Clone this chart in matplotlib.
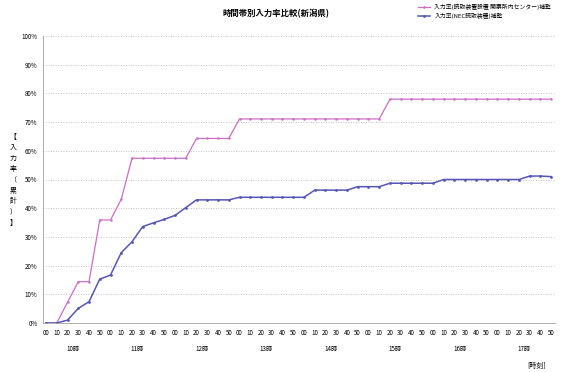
import numpy as np
import matplotlib
matplotlib.use('Agg')
import matplotlib.pyplot as plt

plt.rcParams['font.family'] = ['Noto Sans CJK JP', 'DejaVu Sans']

# data (percent, cumulative)
hours = ['10時', '11時', '12時', '13時', '14時', '15時', '16時', '17時']
minutes = ['00', '10', '20', '30', '40', '50']
pink_label = '入力率(読取装置設置 開票所内センター)補整'
blue_label = '入力率(NEC読取装置)補整'
pink_vals = [0, 0, 7.2, 14.4, 14.4, 35.9, 35.9, 43.1, 57.4, 57.4, 57.4, 57.4,
             57.4, 57.4, 64.3, 64.3, 64.3, 64.3, 71.1, 71.1, 71.1, 71.1, 71.1, 71.1,
             71.1, 71.1, 71.1, 71.1, 71.1, 71.1, 71.1, 71.1, 78.0, 78.0, 78.0, 78.0,
             78.0, 78.0, 78.0, 78.0, 78.0, 78.0, 78.0, 78.0, 78.0, 78.0, 78.0, 78.0]
blue_vals = [0, 0, 1.0, 5.1, 7.4, 15.3, 16.7, 24.5, 28.3, 33.6, 34.9, 36.1,
             37.5, 40.2, 42.9, 42.9, 42.9, 42.9, 43.8, 43.8, 43.8, 43.8, 43.8, 43.8,
             43.8, 46.3, 46.3, 46.3, 46.3, 47.5, 47.5, 47.5, 48.7, 48.7, 48.7, 48.7,
             48.7, 50.0, 50.0, 50.0, 50.0, 50.0, 50.0, 50.0, 50.0, 51.2, 51.2, 51.0]

pink = '#cc6ec4'
blue = '#5656b4'

fig = plt.figure(figsize=(5.61, 3.72), dpi=100)
ax = fig.add_axes([43 / 561, 49 / 372, 512 / 561, 287 / 372])

x = np.arange(len(pink_vals))
lp, = ax.plot(x, pink_vals, color=pink, lw=0.9, marker='o', ms=1.8,
              markeredgewidth=0, label=pink_label)
lb, = ax.plot(x, blue_vals, color=blue, lw=1.1, marker='o', ms=2.0,
              markeredgewidth=0, label=blue_label)

ax.set_xlim(-0.28, 47.35)
ax.set_ylim(0, 100)
ax.set_yticks(range(0, 101, 10))
ax.set_yticklabels([f'{v}%' for v in range(0, 101, 10)], fontsize=4.5)
ax.set_xticks(x)
ax.set_xticklabels(minutes * len(hours), fontsize=4.5)
ax.tick_params(length=0, pad=4)
ax.yaxis.grid(True, color='#b0b0b0', lw=0.6, ls=(0, (1, 2)))
for s in ['top', 'right']:
    ax.spines[s].set_visible(False)
for s in ['left', 'bottom']:
    ax.spines[s].set_color('#a0a0a0')
    ax.spines[s].set_linewidth(0.6)

# hour group labels
for i, h in enumerate(hours):
    ax.text(i * 6 + 2.5, -9.0, h, ha='center', va='center', fontsize=4.5,
            transform=ax.transData, clip_on=False)

fig.text(537 / 561, 1 - 366 / 372, '[時刻]', ha='center', va='center', fontsize=5)
fig.text(13 / 561, 1 - 180 / 372, '【\n入\n力\n率\n（\n累\n計\n）\n】',
         ha='center', va='center', fontsize=5, linespacing=1.45)

fig.text(276 / 561, 1 - 14 / 372, '時間帯別入力率比較(新潟県)', ha='center',
         va='center', fontsize=6, fontweight='bold')
fig.legend(handles=[lp, lb], loc='upper right', bbox_to_anchor=(0.99, 1.0),
           frameon=False, fontsize=4.2, handlelength=2.0, labelspacing=0.4,
           borderaxespad=0.3)

fig.savefig('out.png', dpi=100, facecolor='white')
